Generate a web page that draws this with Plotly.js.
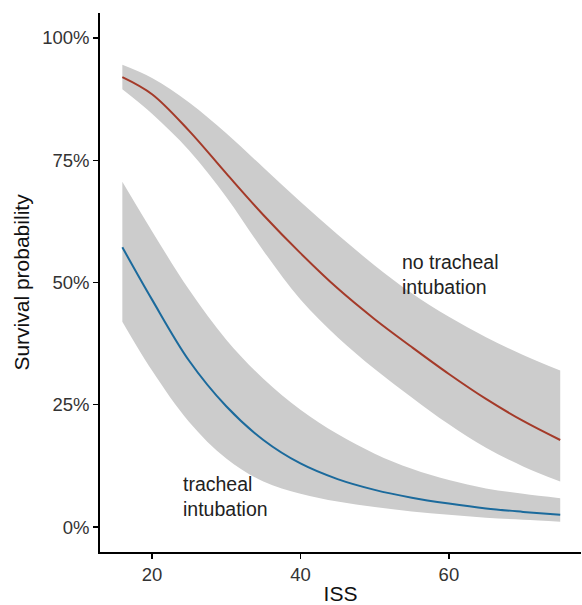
<!DOCTYPE html>
<html>
<head>
<meta charset="utf-8">
<script src="https://cdn.plot.ly/plotly-3.0.1.min.js"></script>
<style>
  html, body { margin: 0; padding: 0; background: #fff; }
  #chart { width: 582px; height: 605px; }
</style>
</head>
<body>
<div id="chart"></div>
<script>
// ISS values where the curves were read
const iss = [16, 20, 25, 30, 35, 40, 45, 50, 55, 60, 65, 70, 75];

// No tracheal intubation (survival probability, %)
const noTI_fit   = [92.0, 88.5, 81.0, 72.3, 63.8, 56.0, 48.8, 42.5, 36.8, 31.3, 26.2, 21.7, 17.8];
const noTI_upper = [94.5, 91.8, 86.8, 80.5, 73.5, 66.5, 59.8, 53.5, 47.8, 43.0, 38.8, 35.2, 32.0];
const noTI_lower = [89.5, 84.5, 77.0, 67.5, 56.5, 46.5, 38.8, 32.3, 26.5, 21.0, 16.2, 12.4, 9.3];

// Tracheal intubation (survival probability, %)
const TI_fit   = [57.2, 46.5, 34.0, 24.7, 17.8, 13.0, 9.8, 7.6, 6.0, 4.8, 3.8, 3.1, 2.5];
const TI_upper = [70.6, 60.5, 48.5, 38.3, 30.3, 24.0, 19.0, 15.0, 11.9, 9.6, 7.9, 6.8, 5.9];
const TI_lower = [42.0, 32.0, 21.5, 14.0, 9.3, 6.8, 5.2, 4.1, 3.2, 2.5, 1.9, 1.5, 1.1];

const yTicks = [0, 25, 50, 75, 100];
const yTickText = ['0%', '25%', '50%', '75%', '100%'];
const xTicks = [20, 40, 60];

const bandColor = 'rgb(204,204,204)';
const redColor = '#A43A29';
const blueColor = '#1B6A9C';

function band(upper, lower) {
  return [
    {x: iss, y: upper, mode: 'lines', line: {width: 0, shape: 'spline', smoothing: 1},
     hoverinfo: 'skip', showlegend: false},
    {x: iss, y: lower, mode: 'lines', line: {width: 0, shape: 'spline', smoothing: 1},
     fill: 'tonexty', fillcolor: bandColor, hoverinfo: 'skip', showlegend: false}
  ];
}

const traces = [
  ...band(noTI_upper, noTI_lower),
  ...band(TI_upper, TI_lower),
  {x: iss, y: noTI_fit, mode: 'lines', line: {color: redColor, width: 2, shape: 'spline', smoothing: 1},
   name: 'no tracheal intubation', showlegend: false},
  {x: iss, y: TI_fit, mode: 'lines', line: {color: blueColor, width: 2, shape: 'spline', smoothing: 1},
   name: 'tracheal intubation', showlegend: false}
];

const layout = {
  width: 582, height: 605,
  margin: {l: 100, r: 1, t: 13, b: 53},
  paper_bgcolor: '#fff', plot_bgcolor: '#fff',
  font: {family: 'Liberation Sans, Arial, sans-serif', color: '#222'},
  showlegend: false,
  xaxis: {
    range: [12.99, 77.8],
    tickmode: 'array', tickvals: xTicks,
    ticks: 'outside', ticklen: 5, tickwidth: 1.3, tickcolor: '#000',
    showline: true, linecolor: '#000', linewidth: 1.8,
    showgrid: false, zeroline: false,
    tickfont: {size: 18.5, color: '#333'},
    title: {text: 'ISS', font: {size: 21, color: '#111'}, standoff: 8}
  },
  yaxis: {
    range: [-5.1, 105.1],
    tickmode: 'array', tickvals: yTicks, ticktext: yTickText,
    ticks: 'outside', ticklen: 5, tickwidth: 1.3, tickcolor: '#000',
    showline: true, linecolor: '#000', linewidth: 1.8,
    showgrid: false, zeroline: false,
    tickfont: {size: 18.5, color: '#333'},
    title: {text: 'Survival probability', font: {size: 21, color: '#111'}, standoff: 7}
  },
  annotations: [
    {x: 53.4, y: 51.6, xref: 'x', yref: 'y', xanchor: 'left', yanchor: 'middle', align: 'left',
     text: 'no tracheal<br>intubation', showarrow: false, font: {size: 19.5, color: '#222'}},
    {x: 23.9, y: 6.3, xref: 'x', yref: 'y', xanchor: 'left', yanchor: 'middle', align: 'left',
     text: 'tracheal<br>intubation', showarrow: false, font: {size: 19.5, color: '#222'}}
  ]
};

Plotly.newPlot('chart', traces, layout, {displayModeBar: false, staticPlot: true});
</script>
</body>
</html>
